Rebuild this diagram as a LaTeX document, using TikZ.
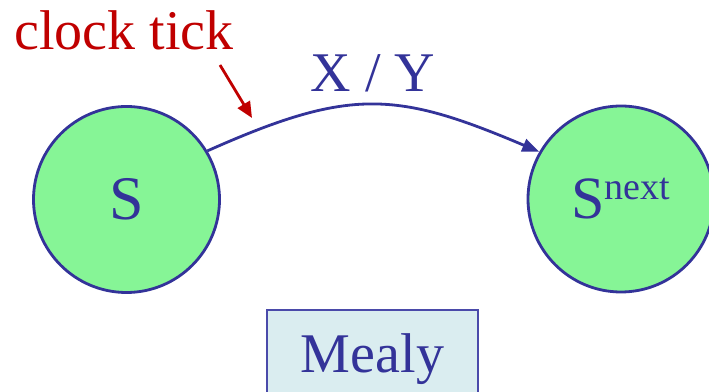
\documentclass[tikz,border=0pt]{standalone}
\usepackage{fontspec}
\setmainfont{Liberation Serif}
\usetikzlibrary{arrows.meta,positioning}
\definecolor{linec}{HTML}{333399}
\definecolor{statec}{HTML}{86F596}
\definecolor{boxc}{HTML}{DAEDF0}
\definecolor{boxline}{HTML}{4A4AAA}
\definecolor{tickc}{HTML}{C00000}
\tikzset{
  state/.style={draw=linec, fill=statec, circle, line width=2.8pt, minimum size=186pt, inner sep=0pt, text=linec},
  kind/.style={draw=boxline, fill=boxc, line width=1.5pt, minimum width=211pt, minimum height=98pt, inner sep=0pt, text=linec},
  arr/.style={-{Triangle[length=17pt, width=13pt]}, line width=2.8pt},
}

\begin{document}
\begin{tikzpicture}[x=1pt, y=1pt, font=\fontsize{56}{60}\selectfont]
  \clip (0,0) rectangle (709,391);
  \node[state, font=\fontsize{62}{62}\selectfont] (s) at (126.5,191.5) {S};
  \node[state, font=\fontsize{60}{60}\selectfont] (n) at (621,192) {S\raisebox{19pt}{\fontsize{38}{38}\selectfont next}};
  \node[kind] (mealy) at (372.5,32) {Mealy};
  \node[text=tickc, anchor=base west, inner sep=0pt] (clock) at (14,341) {clock tick};
  \coordinate (tail) at (220,326);
  \coordinate (head) at (252,273);
  \draw[arr, color=linec] (s.31) to[out=24, in=157, looseness=1.2]
    node[pos=0.5, above=8pt] (xy) {X / Y} (n.150);
  \draw[arr, color=tickc, -{Triangle[length=16pt, width=14pt]}] (tail) -- (head);
\end{tikzpicture}
\end{document}
